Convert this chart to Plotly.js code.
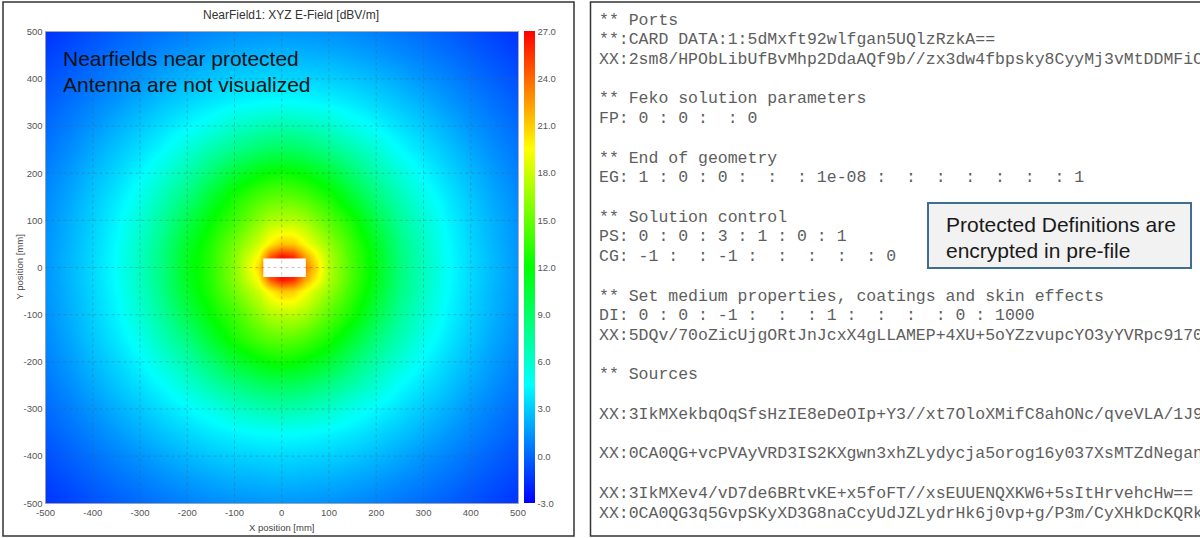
<!DOCTYPE html>
<html>
<head>
<meta charset="utf-8">
<script src="https://cdn.plot.ly/plotly-3.0.1.min.js"></script>
<style>
  html, body { margin: 0; padding: 0; background: #fff; overflow: hidden; }
  #plot { width: 1200px; height: 538px; }
</style>
</head>
<body>
<div id="plot"></div>
<script>
// ---- Near-field sample grid (mm) ----
const xPos = [-500, -450, -400, -350, -300, -250, -200, -150, -100, -50, -25, 0, 25, 50, 100, 150, 200, 250, 300, 350, 400, 450, 500];
const yPos = [-500, -450, -400, -350, -300, -250, -200, -150, -100, -50, -25, 0, 25, 50, 100, 150, 200, 250, 300, 350, 400, 450, 500];

// E-field magnitude [dBV/m], one row per y position (bottom to top)
const rowY500 = [-1.5, -1.07, -0.66, -0.24, 0.14, 0.47, 0.78, 1.05, 1.24, 1.36, 1.39, 1.4, 1.39, 1.36, 1.24, 1.05, 0.78, 0.47, 0.14, -0.24, -0.66, -1.07, -1.5];
const rowY450 = [-1.07, -0.6, -0.13, 0.32, 0.75, 1.16, 1.55, 1.91, 2.18, 2.3, 2.39, 2.4, 2.39, 2.3, 2.18, 1.91, 1.55, 1.16, 0.75, 0.32, -0.13, -0.6, -1.07];
const rowY400 = [-0.66, -0.13, 0.38, 0.9, 1.4, 1.97, 2.46, 2.86, 3.15, 3.3, 3.38, 3.4, 3.38, 3.3, 3.15, 2.86, 2.46, 1.97, 1.4, 0.9, 0.38, -0.13, -0.66];
const rowY350 = [-0.24, 0.32, 0.9, 1.5, 2.18, 2.8, 3.34, 3.86, 4.26, 4.5, 4.58, 4.6, 4.58, 4.5, 4.26, 3.86, 3.34, 2.8, 2.18, 1.5, 0.9, 0.32, -0.24];
const rowY300 = [0.14, 0.75, 1.4, 2.18, 2.9, 3.63, 4.35, 5.07, 6.0, 6.6, 6.8, 6.9, 6.8, 6.6, 6.0, 5.07, 4.35, 3.63, 2.9, 2.18, 1.4, 0.75, 0.14];
const rowY250 = [0.47, 1.16, 1.97, 2.8, 3.63, 4.5, 5.7, 6.9, 8.0, 8.9, 9.2, 9.3, 9.2, 8.9, 8.0, 6.9, 5.7, 4.5, 3.63, 2.8, 1.97, 1.16, 0.47];
const rowY200 = [0.78, 1.55, 2.46, 3.34, 4.35, 5.6, 7.0, 8.7, 10.5, 11.7, 12.1, 12.3, 12.1, 11.7, 10.5, 8.7, 7.0, 5.6, 4.35, 3.34, 2.46, 1.55, 0.78];
const rowY150 = [1.05, 1.91, 2.86, 3.86, 5.07, 6.7, 8.4, 10.6, 12.6, 14.1, 14.6, 14.8, 14.6, 14.1, 12.6, 10.6, 8.4, 6.7, 5.07, 3.86, 2.86, 1.91, 1.05];
const rowY100 = [1.24, 2.18, 3.15, 4.26, 5.75, 7.55, 9.9, 12.0, 13.8, 16.1, 17.1, 17.4, 17.4, 16.8, 14.5, 12.5, 9.9, 7.55, 5.75, 4.26, 3.15, 2.18, 1.24];
const rowY50  = [1.36, 2.3, 3.3, 4.5, 6.2, 8.2, 10.9, 12.9, 15.4, 18.1, 19.9, 21.3, 21.0, 19.4, 16.3, 13.6, 10.9, 8.2, 6.2, 4.5, 3.3, 2.3, 1.36];
const rowY25  = [1.39, 2.39, 3.38, 4.58, 6.36, 8.35, 11.2, 13.1, 15.9, 19.6, 24.0, 26.5, 25.5, 22.0, 17.0, 13.9, 11.2, 8.35, 6.36, 4.58, 3.38, 2.39, 1.39];
const rowY0   = [1.4, 2.4, 3.4, 4.6, 6.4, 8.4, 11.3, 13.2, 16.0, 20.6, 26, 27, 27, 23.5, 17.2, 14.0, 11.3, 8.4, 6.4, 4.6, 3.4, 2.4, 1.4];

const eField = [
  rowY500, rowY450, rowY400, rowY350, rowY300, rowY250, rowY200, rowY150, rowY100, rowY50, rowY25,
  rowY0,
  rowY25, rowY50, rowY100, rowY150, rowY200, rowY250, rowY300, rowY350, rowY400, rowY450, rowY500
];

// Protected antenna footprint (mm), not visualized
const maskX = [-39, 51];
const maskY = [-20, 19];

// Axis / colorbar ticks
const axisTicks = [-500, -400, -300, -200, -100, 0, 100, 200, 300, 400, 500];
const axisTickLabels = ['-500', '-400', '-300', '-200', '-100', '0', '100', '200', '300', '400', '500'];
const gridVals = [-400, -300, -200, -100, 0, 100, 200, 300, 400];
const cbTicks = [-3, 0, 3, 6, 9, 12, 15, 18, 21, 24, 27];
const cbTickLabels = ['-3.0', '0.0', '3.0', '6.0', '9.0', '12.0', '15.0', '18.0', '21.0', '24.0', '27.0'];

// Pre-file card listing
const cardLines = [
  '** Ports',
  '**:CARD DATA:1:5dMxft92wlfgan5UQlzRzkA==',
  'XX:2sm8/HPObLibUfBvMhp2DdaAQf9b//zx3dw4fbpsky8CyyMj3vMtDDMFiC',
  '',
  '** Feko solution parameters',
  'FP: 0 : 0 :  : 0',
  '',
  '** End of geometry',
  'EG: 1 : 0 : 0 :  :  : 1e-08 :  :  :  :  :  :  : 1',
  '',
  '** Solution control',
  'PS: 0 : 0 : 3 : 1 : 0 : 1',
  'CG: -1 :  : -1 :  :  :  :  : 0',
  '',
  '** Set medium properties, coatings and skin effects',
  'DI: 0 : 0 : -1 :  :  : 1 :  :  :  : 0 : 1000',
  'XX:5DQv/70oZicUjgORtJnJcxX4gLLAMEP+4XU+5oYZzvupcYO3yYVRpc9170',
  '',
  '** Sources',
  '',
  'XX:3IkMXekbqOqSfsHzIE8eDeOIp+Y3//xt7OloXMifC8ahONc/qveVLA/1J9',
  '',
  'XX:0CA0QG+vcPVAyVRD3IS2KXgwn3xhZLydycja5orog16y037XsMTZdNegan',
  '',
  'XX:3IkMXev4/vD7de6BRtvKE+x5foFT//xsEUUENQXKW6+5sItHrvehcHw==',
  'XX:0CA0QG3q5GvpSKyXD3G8naCcyUdJZLydrHk6j0vp+g/P3m/CyXHkDcKQRk'
];
const noteLines = ['Protected Definitions are', 'encrypted in pre-file'];
const fieldNoteLines = ['Nearfields near protected', 'Antenna are not visualized'];

// ---- Layout helpers (pixel -> paper) ----
const W = 1200, H = 538;
const px = v => v / W;
const py = v => 1 - v / H;
const plotL = 45.5, plotR = 518, plotT = 31.7, plotB = 503.3;

const SANS = '"Liberation Sans", Arial, sans-serif';
const MONO = '"Liberation Mono", "Courier New", monospace';

const jet = [
  [0, '#0000ff'], [0.25, '#00ffff'], [0.5, '#00ff00'], [0.75, '#ffff00'], [1, '#ff0000']
];

const trace = {
  type: 'heatmap',
  x: xPos, y: yPos, z: eField,
  zmin: -3, zmax: 27,
  zsmooth: 'best',
  colorscale: jet,
  hoverinfo: 'skip',
  colorbar: {
    x: px(524), xanchor: 'left', xpad: 0,
    y: py((plotT + plotB) / 2), yanchor: 'middle', ypad: 0,
    len: (plotB - plotT) / H, lenmode: 'fraction',
    thickness: 11, thicknessmode: 'pixels',
    outlinewidth: 0,
    tickvals: cbTicks, ticktext: cbTickLabels,
    ticks: '', tickfont: { family: SANS, size: 9.5, color: '#555' }
  }
};

const shapes = [];
// panel frames
shapes.push({ type: 'rect', xref: 'paper', yref: 'paper', x0: px(3), x1: px(574), y0: py(536), y1: py(2),
  line: { color: '#333', width: 1.5 }, fillcolor: 'rgba(0,0,0,0)', layer: 'below' });
shapes.push({ type: 'rect', xref: 'paper', yref: 'paper', x0: px(590.5), x1: px(1215), y0: py(536), y1: py(2),
  line: { color: '#333', width: 1.5 }, fillcolor: 'rgba(0,0,0,0)', layer: 'below' });
// masked antenna region
shapes.push({ type: 'rect', xref: 'x', yref: 'y', x0: maskX[0], x1: maskX[1], y0: maskY[0], y1: maskY[1],
  fillcolor: '#ffffff', line: { width: 0 }, layer: 'above' });
// dashed grid over the field map
gridVals.forEach(v => {
  shapes.push({ type: 'line', xref: 'x', yref: 'y', x0: v, x1: v, y0: -500, y1: 500,
    line: { color: 'rgba(90,90,90,0.35)', width: 1, dash: 'dot' }, layer: 'above' });
  shapes.push({ type: 'line', xref: 'x', yref: 'y', x0: -500, x1: 500, y0: v, y1: v,
    line: { color: 'rgba(90,90,90,0.35)', width: 1, dash: 'dot' }, layer: 'above' });
});
// callout box
shapes.push({ type: 'rect', xref: 'paper', yref: 'paper', x0: px(928), x1: px(1191), y0: py(268), y1: py(203),
  fillcolor: '#f2f2f2', line: { color: '#3f6f8f', width: 2 }, layer: 'above' });

const annotations = [];
const nb = s => s.replace(/ /g, '\u00a0');
cardLines.forEach((line, i) => {
  if (!line) return;
  annotations.push({ xref: 'paper', yref: 'paper', x: px(597), y: py(20 + i * 19.72),
    xanchor: 'left', yanchor: 'middle', showarrow: false, text: nb(line),
    font: { family: MONO, size: 16.5, color: '#5e5e5e' } });
});
noteLines.forEach((line, i) => {
  annotations.push({ xref: 'paper', yref: 'paper', x: px(944), y: py(224 + i * 26),
    xanchor: 'left', yanchor: 'middle', showarrow: false, text: line,
    font: { family: SANS, size: 21, color: '#1a1a1a' } });
});
fieldNoteLines.forEach((line, i) => {
  annotations.push({ xref: 'paper', yref: 'paper', x: px(61), y: py(58 + i * 26),
    xanchor: 'left', yanchor: 'middle', showarrow: false, text: line,
    font: { family: SANS, size: 21, color: '#111' } });
});
annotations.push({ xref: 'paper', yref: 'paper', x: px((plotL + plotR) / 2), y: py(527),
  xanchor: 'center', yanchor: 'middle', showarrow: false, text: 'X position [mm]',
  font: { family: SANS, size: 9.5, color: '#444' } });
annotations.push({ xref: 'paper', yref: 'paper', x: px(19), y: py((plotT + plotB) / 2), textangle: -90,
  xanchor: 'center', yanchor: 'middle', showarrow: false, text: 'Y position [mm]',
  font: { family: SANS, size: 9.5, color: '#444' } });

const axisCommon = {
  range: [-500, 500], tickvals: axisTicks, ticktext: axisTickLabels,
  ticks: '', showgrid: false, zeroline: false,
  showline: true, mirror: true, linecolor: 'rgba(120,120,120,0.6)', linewidth: 1,
  tickfont: { family: SANS, size: 9.5, color: '#555' }, fixedrange: true
};

const layout = {
  width: W, height: H,
  margin: { l: 0, r: 0, t: 0, b: 0, pad: 0 },
  paper_bgcolor: '#ffffff', plot_bgcolor: '#ffffff',
  font: { family: SANS, color: '#555', size: 10 },
  title: { text: 'NearField1: XYZ E-Field [dBV/m]', xref: 'container', yref: 'container',
    x: px(291), xanchor: 'center', y: py(15), yanchor: 'middle',
    font: { family: SANS, size: 12, color: '#333' } },
  xaxis: Object.assign({ domain: [px(plotL), px(plotR)] }, axisCommon),
  yaxis: Object.assign({ domain: [py(plotB), py(plotT)] }, axisCommon),
  shapes: shapes,
  annotations: annotations,
  showlegend: false
};

Plotly.newPlot('plot', [trace], layout, { staticPlot: true, displayModeBar: false });
</script>
</body>
</html>
